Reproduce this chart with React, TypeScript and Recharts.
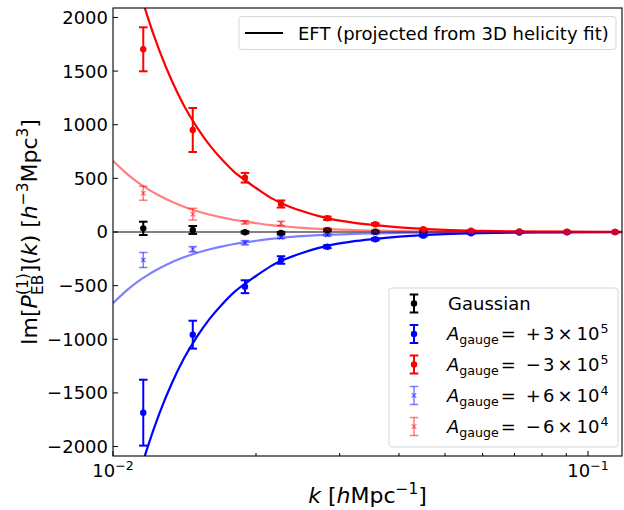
import React from 'react';
import { ComposedChart, Line, Scatter, XAxis, YAxis, ErrorBar } from 'recharts';

// ---- data ----
const kBins = [0.01158, 0.01472, 0.01896, 0.02258, 0.02827, 0.03566, 0.045, 0.05671, 0.07168, 0.09033, 0.114];

const gaussVals = [34, 19, -3, -9, 16, 3, 1, 1, 0, 0, 0];
const gaussErr = [62, 37, 10, 10, 8, 6, 4, 3, 2, 1, 1];

const bluePosVals = [-1684, -957, -510, -261, -137, -68, -34, -12, -5, -2, -1];
const bluePosErr = [307, 130, 60, 35, 14, 10, 7, 5, 3, 2, 1];

const redNegVals = [1703, 951, 506, 261, 128, 72, 25, 12, 5, 2, 1];
const redNegErr = [205, 205, 45, 33, 15, 10, 7, 5, 3, 2, 1];

const lightBlueVals = [-261, -161, -100, -49, -28, -12, -6, -3, -1, -1, 0];
const lightBlueErr = [70, 25, 20, 12, 10, 7, 5, 3, 2, 1, 1];

const lightRedVals = [361, 166, 90, 80, 28, 12, 6, 3, 1, 1, 0];
const lightRedErr = [65, 55, 15, 20, 10, 7, 5, 3, 2, 1, 1];

const kCurve = [0.0100, 0.0106, 0.0112, 0.0118, 0.0125, 0.0133, 0.0141, 0.0150, 0.0160, 0.0170, 0.0180, 0.0190, 0.0200, 0.0215, 0.0230, 0.0250, 0.0270, 0.0290, 0.0320, 0.0350, 0.0400, 0.0450, 0.0500, 0.0600, 0.0700, 0.0850, 0.1000, 0.1180];
const eftRedStrong = [3320, 2790, 2360, 2020, 1700, 1410, 1180, 980, 805, 670, 560, 480, 410, 318, 255, 195, 150, 118, 88, 68, 44, 29, 20, 11, 6, 3, 1.5, 0.8];
const eftBlueStrong = [-3320, -2790, -2360, -2020, -1700, -1410, -1180, -980, -805, -670, -560, -480, -410, -318, -255, -195, -150, -118, -88, -68, -44, -29, -20, -11, -6, -3, -1.5, -0.8];
const eftRedWeak = [664, 558, 472, 404, 340, 282, 236, 196, 161, 134, 112, 96, 82, 64, 51, 39, 30, 24, 18, 14, 9, 6, 4, 2.2, 1.2, 0.6, 0.3, 0.16];
const eftBlueWeak = [-664, -558, -472, -404, -340, -282, -236, -196, -161, -134, -112, -96, -82, -64, -51, -39, -30, -24, -18, -14, -9, -6, -4, -2.2, -1.2, -0.6, -0.3, -0.16];

const zeroK = [0.01, 0.118];
const zeroVals = [0, 0];

const xTicks = [0.01, 0.02, 0.03, 0.04, 0.05, 0.06, 0.07, 0.08, 0.09, 0.1];
const yTicks = [-2000, -1500, -1000, -500, 0, 500, 1000, 1500, 2000];
const xDomain = [0.01, 0.1179];
const yDomain = [-2088, 2088];

// ---- helpers ----
const FONT = '"DejaVu Sans", sans-serif';
const MINUS = '\u2212';

const pts = (ys: number[], es: number[]) => kBins.map((x, i) => ({ x, y: ys[i], e: es[i] }));
const curve = (xs: number[], ys: number[]) => xs.map((x, i) => ({ x, y: ys[i] }));

const dot = (color: string) => (p: any) => <circle cx={p.cx} cy={p.cy} r={3.2} fill={color} />;
const cross = (color: string) => (p: any) => {
  const s = 2.3;
  return (
    <path
      d={`M${p.cx - s},${p.cy - s}L${p.cx + s},${p.cy + s}M${p.cx - s},${p.cy + s}L${p.cx + s},${p.cy - s}`}
      stroke={color}
      strokeWidth={1.3}
      strokeOpacity={0.5}
      fill="none"
    />
  );
};

const XTick = (props: any) => {
  const { x, y, payload } = props;
  const v = payload.value;
  const lg = Math.log10(v);
  const major = Math.abs(lg - Math.round(lg)) < 1e-6;
  return (
    <g>
      <line x1={x} x2={x} y1={y} y2={y - (major ? 5 : 3)} stroke="#000" strokeWidth={1} />
      {major && (
        <text x={x} y={y + 21} textAnchor="middle" fontSize={18} fontFamily={FONT} fill="#000">
          10<tspan fontSize={12.6} dy={-7}>{MINUS + String(Math.abs(Math.round(lg)))}</tspan>
        </text>
      )}
    </g>
  );
};

const YTick = (props: any) => {
  const { x, y, payload } = props;
  const v = payload.value;
  const label = v < 0 ? MINUS + String(Math.abs(v)) : String(v);
  return (
    <g>
      <line x1={x} x2={x + 5} y1={y} y2={y} stroke="#000" strokeWidth={1} />
      <text x={x - 5} y={y} dy="0.36em" textAnchor="end" fontSize={18} fontFamily={FONT} fill="#000">
        {label}
      </text>
    </g>
  );
};

const LegendErr = ({ cx, cy, color, light }: { cx: number; cy: number; color: string; light?: boolean }) => {
  const op = light ? 0.5 : 1;
  const sw = light ? 1.5 : 2;
  const h = 9;
  const c = 4.3;
  return (
    <g stroke={color} strokeOpacity={op} strokeWidth={sw} fill="none">
      <line x1={cx} x2={cx} y1={cy - h} y2={cy + h} />
      <line x1={cx - c} x2={cx + c} y1={cy - h} y2={cy - h} />
      <line x1={cx - c} x2={cx + c} y1={cy + h} y2={cy + h} />
      {light ? (
        <path d={`M${cx - 2.3},${cy - 2.3}L${cx + 2.3},${cy + 2.3}M${cx - 2.3},${cy + 2.3}L${cx + 2.3},${cy - 2.3}`} strokeWidth={1.3} />
      ) : (
        <circle cx={cx} cy={cy} r={3.2} fill={color} stroke="none" />
      )}
    </g>
  );
};

const ALabel = ({ y, sign, mant, exp }: { y: number; sign: string; mant: string; exp: string }) => (
  <text x={447} y={y + 6} fontSize={18} fontFamily={FONT} fill="#000">
    <tspan fontStyle="italic">A</tspan>
    <tspan fontSize={12.6} dy={4}>gauge</tspan>
    <tspan dy={-4} dx={2}>=</tspan>
    <tspan dx={10}>{sign}</tspan>
    <tspan dx={2}>{mant}</tspan>
    <tspan dx={3}>×</tspan>
    <tspan dx={4}>10</tspan>
    <tspan fontSize={12.6} dy={-7} dx={1}>{exp}</tspan>
  </text>
);

export default function App() {
  return (
    <div style={{ position: 'absolute', left: 0, top: 0, width: 624, height: 510, background: '#fff' }}>
      <ComposedChart width={624} height={510} margin={{ top: 8, right: 2, bottom: 0, left: 0 }}>
        <XAxis
          dataKey="x"
          type="number"
          scale="log"
          domain={xDomain}
          ticks={xTicks}
          interval={0}
          allowDataOverflow
          axisLine={false}
          tickLine={false}
          tickSize={0}
          tickMargin={0}
          height={54}
          tick={<XTick />}
        />
        <YAxis
          dataKey="y"
          type="number"
          domain={yDomain}
          ticks={yTicks}
          interval={0}
          allowDataOverflow
          axisLine={false}
          tickLine={false}
          tickSize={0}
          tickMargin={0}
          width={113}
          tick={<YTick />}
        />
        <Line data={curve(zeroK, zeroVals)} dataKey="y" stroke="#808080" strokeWidth={2} dot={false} isAnimationActive={false} />

        <Line data={curve(kCurve, eftBlueStrong)} dataKey="y" type="monotone" stroke="#0000ff" strokeWidth={2.2} dot={false} isAnimationActive={false} />
        <Line data={curve(kCurve, eftRedStrong)} dataKey="y" type="monotone" stroke="#ff0000" strokeWidth={2.2} dot={false} isAnimationActive={false} />
        <Line data={curve(kCurve, eftBlueWeak)} dataKey="y" type="monotone" stroke="#0000ff" strokeOpacity={0.5} strokeWidth={2.2} dot={false} isAnimationActive={false} />
        <Line data={curve(kCurve, eftRedWeak)} dataKey="y" type="monotone" stroke="#ff0000" strokeOpacity={0.5} strokeWidth={2.2} dot={false} isAnimationActive={false} />

        <Scatter data={pts(gaussVals, gaussErr)} dataKey="y" shape={dot('#000000')} isAnimationActive={false}>
          <ErrorBar dataKey="e" direction="y" width={4.3} strokeWidth={2} stroke="#000000" isAnimationActive={false} />
        </Scatter>
        <Scatter data={pts(bluePosVals, bluePosErr)} dataKey="y" shape={dot('#0000ff')} isAnimationActive={false}>
          <ErrorBar dataKey="e" direction="y" width={4.3} strokeWidth={2} stroke="#0000ff" isAnimationActive={false} />
        </Scatter>
        <Scatter data={pts(redNegVals, redNegErr)} dataKey="y" shape={dot('#ff0000')} isAnimationActive={false}>
          <ErrorBar dataKey="e" direction="y" width={4.3} strokeWidth={2} stroke="#ff0000" isAnimationActive={false} />
        </Scatter>
        <Scatter data={pts(lightBlueVals, lightBlueErr)} dataKey="y" shape={cross('#0000ff')} isAnimationActive={false}>
          <ErrorBar dataKey="e" direction="y" width={4.3} strokeWidth={1.5} stroke="#0000ff" strokeOpacity={0.5} isAnimationActive={false} />
        </Scatter>
        <Scatter data={pts(lightRedVals, lightRedErr)} dataKey="y" shape={cross('#ff0000')} isAnimationActive={false}>
          <ErrorBar dataKey="e" direction="y" width={4.3} strokeWidth={1.5} stroke="#ff0000" strokeOpacity={0.5} isAnimationActive={false} />
        </Scatter>
      </ComposedChart>

      <svg width={624} height={510} style={{ position: 'absolute', left: 0, top: 0, pointerEvents: 'none' }}>
        {/* frame */}
        <rect x={113} y={8} width={509} height={448} fill="none" stroke="#000" strokeWidth={1.1} />

        {/* legend 1 */}
        <rect x={239} y={16.5} width={377} height={33} rx={3} fill="#fff" fillOpacity={0.8} stroke="#d6d6d6" strokeWidth={1} />
        <line x1={245} x2={283} y1={33} y2={33} stroke="#000" strokeWidth={2.2} />
        <text x={298} y={39.5} fontSize={18} fontFamily={FONT} fill="#000">EFT (projected from 3D helicity fit)</text>

        {/* legend 2 */}
        <rect x={389} y={288} width={229} height={159} rx={3} fill="#fff" fillOpacity={0.8} stroke="#d6d6d6" strokeWidth={1} />
        <LegendErr cx={414} cy={303.5} color="#000000" />
        <text x={448} y={310} fontSize={18} fontFamily={FONT} fill="#000">Gaussian</text>
        <LegendErr cx={414} cy={334} color="#0000ff" />
        <ALabel y={334} sign="+" mant="3" exp="5" />
        <LegendErr cx={414} cy={364.5} color="#ff0000" />
        <ALabel y={364.5} sign={MINUS} mant="3" exp="5" />
        <LegendErr cx={414} cy={395.5} color="#0000ff" light />
        <ALabel y={395.5} sign="+" mant="6" exp="4" />
        <LegendErr cx={414} cy={426.5} color="#ff0000" light />
        <ALabel y={426.5} sign={MINUS} mant="6" exp="4" />

        {/* x label */}
        <text x={367.5} y={503} textAnchor="middle" fontSize={22} fontFamily={FONT} fill="#000">
          <tspan fontStyle="italic">k</tspan> [<tspan fontStyle="italic">h</tspan>Mpc<tspan fontSize={15.4} dy={-9}>{MINUS}1</tspan><tspan dy={9}>]</tspan>
        </text>

        {/* y label */}
        <text transform="translate(37,232) rotate(-90)" textAnchor="middle" fontSize={22} fontFamily={FONT} fill="#000">
          Im[<tspan fontStyle="italic">P</tspan>
          <tspan fontSize={15.4} dy={-9}>(1)</tspan>
          <tspan fontSize={15.4} dx={-21.8} dy={15}>EB</tspan>
          <tspan dy={-6} dx={1.5}>](</tspan>
          <tspan fontStyle="italic">k</tspan>
          <tspan>) [</tspan>
          <tspan fontStyle="italic">h</tspan>
          <tspan fontSize={15.4} dy={-9}>{MINUS}3</tspan>
          <tspan dy={9}>Mpc</tspan>
          <tspan fontSize={15.4} dy={-9}>3</tspan>
          <tspan dy={9}>]</tspan>
        </text>
      </svg>
    </div>
  );
}
